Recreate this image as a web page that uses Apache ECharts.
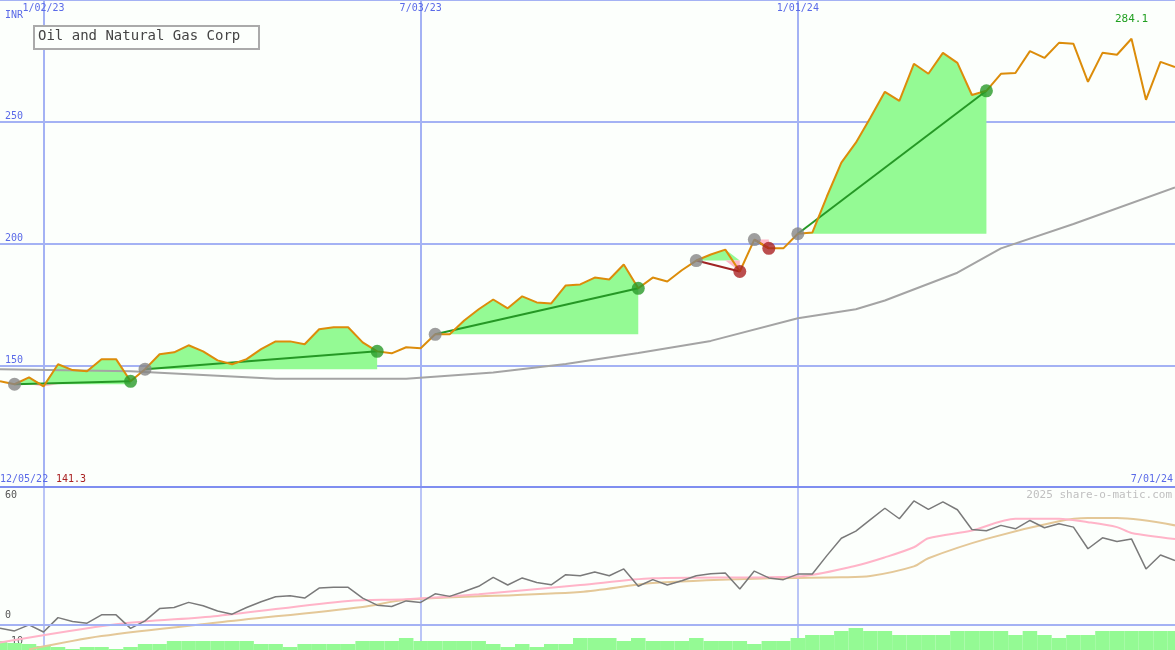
<!DOCTYPE html>
<html>
<head>
<meta charset="UTF-8">
<title>Oil and Natural Gas Corp</title>
<script src="https://cdn.jsdelivr.net/npm/echarts@6/dist/echarts.min.js"></script>
<style>
html,body{height:100%;margin:0;width:100%;background:#fcfffc;}
#main{width:1175px;height:650px;}
</style>
</head>
<body>
<div id="main"></div>
<script>
// weekly closes, first week 12/12/22
var price = [143.4,142.2,145,141.3,150.4,148,147.5,152.5,152.5,143.4,
  148.4,154.5,155.3,158.2,155.7,152,150.4,152.5,156.6,159.8,
  159.8,158.6,164.8,165.6,165.6,159.4,155.7,154.9,157.4,157,
  162.7,162.7,168.4,173,177,173.4,178.3,175.8,175.4,182.8,
  183.2,186,185.2,191.4,181.6,186,184.4,189,193,195.5,
  197.5,188.5,201.6,198,198,204,204.5,219.3,233.2,241.4,
  251.6,262.3,258.6,273.8,269.7,278.3,274.2,261,262.7,269.7,
  270,279,276.2,282.4,282,266.4,278.3,277.5,284.1,259,
  274.6,272.5];
// long moving average, [week index, value]
var maLong = [[0,148.4],[9,147.5],[19,144.5],[28,144.5],[34,147],[39,150.5],[44,155],
  [49,160],[55,169.3],[59,173],[61,176.6],[66,188],[69,198],[74,208],[81,223]];
var osc = [-1.9,-3.1,-0.3,-3.6,3.1,1.3,0.5,4.4,4.4,-1.9,
  1.6,7.3,7.8,10.2,8.6,6.2,4.7,7.8,10.5,12.8,
  13.3,12.2,16.9,17.2,17.2,12.2,8.9,8.3,10.9,10.2,
  14.2,13,15.3,17.7,21.9,18.3,21.6,19.5,18.4,23.1,
  22.6,24.4,22.6,25.8,17.7,20.8,18.3,20.3,22.6,23.6,
  23.9,16.4,24.8,21.6,20.8,23.4,23.4,32,40.1,43.4,
  48.8,54.1,49.2,57.5,53.6,57.1,53.4,44.2,43.6,46.1,
  44.5,48.4,45,46.9,45.3,35.2,40.3,38.6,39.8,25.8,
  32.3,29.7];
var oscFast = [[-1,-9.7],[7.7,0],[14.9,3.9],[24.1,10.9],[28,11.7],[33.3,14],[40.4,18.3],
  [44.9,21.4],[55.1,22.3],[59.3,27.3],[61.1,31.2],[62.9,35.9],[64.1,40.1],[67,43.7],
  [70,49.2],[73.1,49.2],[75.2,47.6],[77,45.3],[78,42.6],[81,39.8]];
var oscSlow = [[1.5,-11.7],[6.9,-5.5],[14.9,0.8],[25.4,8.1],[28,11.4],[40.4,15.1],
  [44.9,19.2],[52.6,21.4],[57.5,21.9],[59.5,22.5],[62.9,27],[64.4,30.8],[68,39.8],[73.1,48],
  [74.7,49.5],[77,49.5],[81,46.1]];
var volume = [9,7,6,4,3,1,3,3,1,3,6,6,9,9,9,9,9,9,6,6,
  3,6,6,6,6,9,9,9,12,9,9,9,9,9,6,3,6,3,6,6,
  12,12,12,9,12,9,9,9,12,9,9,9,6,9,9,12,15,15,19,22,
  19,19,15,15,15,15,19,19,19,19,15,19,15,12,15,15,19,19,19,19,
  19,19];
// trades: [start week index, end week index]
var trades = [[1,9],[10,26],[30,44],[48,51],[52,53],[55,68]];

var start = new Date(2022, 11, 12);
var dates = price.map(function(p, k){
  var d = new Date(start.getTime() + k*7*86400000);
  return (d.getMonth()+1) + '/' + String(d.getDate()).padStart(2,'0') + '/' + String(d.getFullYear()).slice(2);
});
var marks = {3:1, 29:1, 55:1};
var gridBlue = '#a4b2f4';
var mono = 'DejaVu Sans Mono';

var series = [];
trades.forEach(function(t){
  var s = price[t[0]];
  var up = [], dn = [];
  for (var k = 0; k < price.length; k++) {
    if (k < t[0] || k > t[1]) { up.push(null); dn.push(null); continue; }
    up.push(Math.max(price[k], s));
    dn.push(Math.min(price[k], s));
  }
  series.push({type:'line', data:up, symbol:'none', lineStyle:{width:0}, silent:true,
    areaStyle:{color:'#94fa94', opacity:1, origin:s}, z:1});
  series.push({type:'line', data:dn, symbol:'none', lineStyle:{width:0}, silent:true,
    areaStyle:{color:'#ffb8c8', opacity:1, origin:s}, z:1});
});
series.push({type:'line', data:maLong, symbol:'none', lineStyle:{color:'#a4a4a4', width:2}, z:2});
trades.forEach(function(t){
  var win = price[t[1]] >= price[t[0]];
  series.push({type:'line', data:[[t[0], price[t[0]]],[t[1], price[t[1]]]], symbol:'none',
    lineStyle:{color: win ? '#259825' : '#a02424', width:2}, z:3});
});
series.push({type:'line', data:price, symbol:'none', lineStyle:{color:'#dc8c0a', width:2}, z:4,
  markPoint:{symbol:'circle', symbolSize:0, data:[{type:'max'}],
    label:{show:true, position:'top', distance:14, color:'#22a022', fontFamily:mono, fontSize:11,
      formatter:function(p){ return p.value.toFixed(1); }}}});
var startPts = [], winPts = [], lossPts = [];
trades.forEach(function(t){
  startPts.push([t[0], price[t[0]]]);
  (price[t[1]] >= price[t[0]] ? winPts : lossPts).push([t[1], price[t[1]]]);
});
series.push({type:'scatter', data:startPts, symbolSize:13, itemStyle:{color:'#868686'}, z:5});
series.push({type:'scatter', data:winPts, symbolSize:13, itemStyle:{color:'#289a28'}, z:5});
series.push({type:'scatter', data:lossPts, symbolSize:13, itemStyle:{color:'#aa2222'}, z:5});

// lower panel
series.push({type:'bar', xAxisIndex:1, yAxisIndex:2, data:volume, barCategoryGap:0,
  itemStyle:{color:'#94fa94'}, z:1});
series.push({type:'line', xAxisIndex:1, yAxisIndex:1, data:oscSlow, symbol:'none', smooth:0.3,
  lineStyle:{color:'#e4c898', width:2}, z:2});
series.push({type:'line', xAxisIndex:1, yAxisIndex:1, data:oscFast, symbol:'none', smooth:0.3,
  lineStyle:{color:'#ffb4c8', width:2}, z:2});
series.push({type:'line', xAxisIndex:1, yAxisIndex:1, data:osc, symbol:'none',
  lineStyle:{color:'#7a7a7a', width:1.5}, z:3,
  markLine:{symbol:'none', silent:true, label:{show:false},
    lineStyle:{color:gridBlue, width:2, type:'solid'}, data:[{yAxis:0}]}});

var chart = echarts.init(document.getElementById('main'));
chart.setOption({
  animation:false,
  backgroundColor:'#fcfffc',
  grid:[{left:0, right:0, top:0, height:487}, {left:0, right:0, top:487, height:163}],
  xAxis:[
    {type:'category', gridIndex:0, data:dates, boundaryGap:false, position:'top',
      axisLine:{show:false}, axisTick:{show:false},
      axisLabel:{inside:true, margin:3, fontFamily:mono, fontSize:10, color:'#5a6ae8',
        interval:function(i){ return !!marks[i]; }},
      splitLine:{show:true, interval:function(i){ return !!marks[i]; }, lineStyle:{color:gridBlue, width:2}}},
    {type:'category', gridIndex:1, data:dates, boundaryGap:false,
      axisLine:{show:false}, axisTick:{show:false}, axisLabel:{show:false},
      splitLine:{show:true, interval:function(i){ return !!marks[i]; }, lineStyle:{color:gridBlue, width:1.5}}}
  ],
  yAxis:[
    {type:'value', gridIndex:0, min:100, max:300, interval:50, axisLine:{show:false}, axisTick:{show:false},
      axisLabel:{inside:true, margin:5, verticalAlign:'bottom', fontFamily:mono, fontSize:10, color:'#5a6ae8',
        formatter:function(v){ return (v > 100 && v < 300) ? String(v) : ''; }},
      splitLine:{lineStyle:{color:gridBlue, width:2}}},
    {type:'value', gridIndex:1, min:-12, max:64, interval:2, axisLine:{show:false}, axisTick:{show:false},
      axisLabel:{inside:true, margin:5, verticalAlign:'middle', fontFamily:mono, fontSize:10, color:'#555',
        formatter:function(v){ return v === 60 ? '60' : v === 4 ? '0' : v === -8 ? '-10' : ''; }},
      splitLine:{show:false}},
    {type:'value', gridIndex:1, min:0, max:163, show:false}
  ],
  graphic:[
    {type:'line', shape:{x1:0, y1:487, x2:1175, y2:487}, style:{stroke:'#7f8ef0', lineWidth:2}, z:10},
    {type:'rect', left:33, top:25, shape:{width:225, height:23}, style:{fill:'#fcfffc', stroke:'#aaaaaa', lineWidth:2}, z:10},
    {type:'text', left:38, top:29, style:{text:'Oil and Natural Gas Corp', font:'14px "DejaVu Sans Mono"', fill:'#444'}, z:11},
    {type:'text', left:5, top:10, style:{text:'INR', font:'10px "DejaVu Sans Mono"', fill:'#5a6ae8'}, z:11},
    {type:'text', left:0, top:474, style:{text:'12/05/22', font:'10px "DejaVu Sans Mono"', fill:'#5a6ae8'}, z:11},
    {type:'text', left:56, top:474, style:{text:Math.min.apply(null, price).toFixed(1), font:'10px "DejaVu Sans Mono"', fill:'#aa2222'}, z:11},
    {type:'text', right:2, top:474, style:{text:'7/01/24', font:'10px "DejaVu Sans Mono"', fill:'#5a6ae8'}, z:11},
    {type:'text', right:3, top:490, style:{text:'2025 share-o-matic.com', font:'11px "DejaVu Sans Mono"', fill:'#c0c0c0'}, z:11}
  ],
  series:series
});
</script>
</body>
</html>
